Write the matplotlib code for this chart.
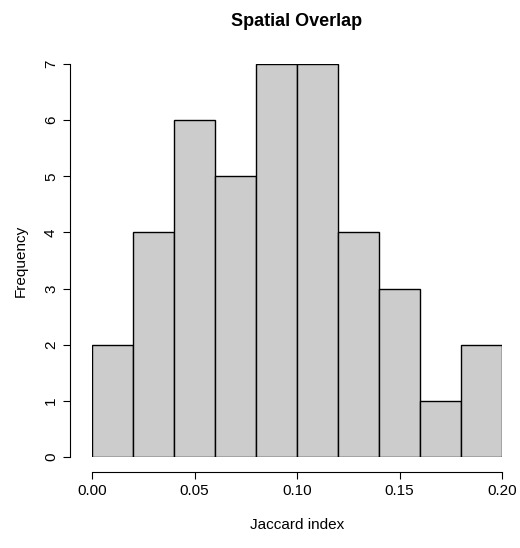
import matplotlib
matplotlib.use("Agg")
import matplotlib.pyplot as plt
import numpy as np

bin_edges = [0.00,0.02,0.04,0.06,0.08,0.10,0.12,0.14,0.16,0.18,0.20]
counts = [2,4,6,5,7,7,4,3,1,2]
xticks = [0.00,0.05,0.10,0.15,0.20]
xticklabels = ["0.00","0.05","0.10","0.15","0.20"]
yticks = [0,1,2,3,4,5,6,7]

plt.rcParams['font.family'] = ['Liberation Sans', 'DejaVu Sans']
fig = plt.figure(figsize=(5.2,5.48), dpi=100)
ax = fig.add_axes([92/520, 91/548, 410/520, 393/548])
ax.bar(bin_edges[:-1], counts, width=np.diff(bin_edges), align='edge',
       color='#cccccc', edgecolor='black', linewidth=1)
ax.set_xlim(0,0.2); ax.set_ylim(0,7)
for s in ['top','right']:
    ax.spines[s].set_visible(False)
ax.spines['left'].set_position(('outward', 16))
ax.spines['bottom'].set_position(('outward', 11))
ax.spines['left'].set_bounds(0,7)
ax.spines['bottom'].set_bounds(0,0.2)
ax.set_xticks(xticks); ax.set_xticklabels(xticklabels, fontsize=11)
ax.set_yticks(yticks)
ax.set_yticklabels([str(v) for v in yticks], fontsize=11, rotation=90, va='center')
ax.tick_params(length=5)
ax.set_xlabel("Jaccard index", fontsize=11, labelpad=14)
ax.set_ylabel("Frequency", fontsize=11, labelpad=12)
fig.text(0.57, 1-22/548, "Spatial Overlap", ha='center', va='center', fontsize=13, fontweight='bold')
fig.savefig("out.png", dpi=100)
